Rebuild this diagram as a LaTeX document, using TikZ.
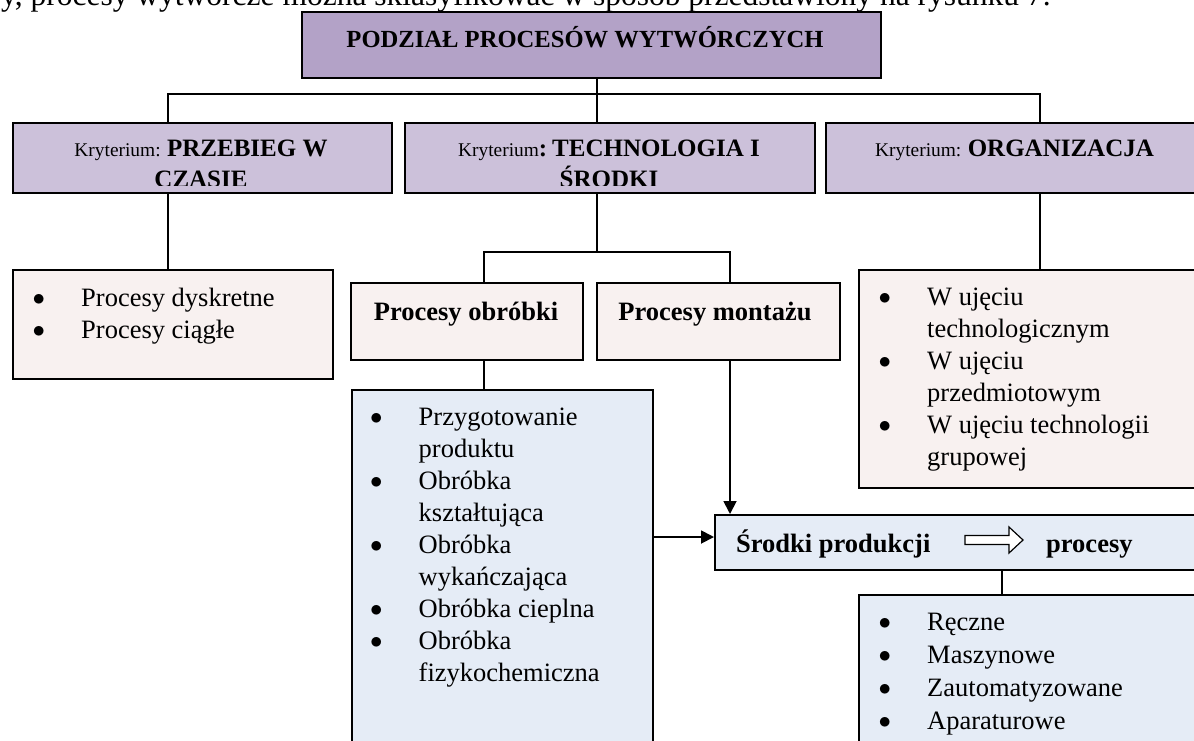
\documentclass[tikz,border=0pt]{standalone}
\usepackage{fontspec}
\setmainfont{Liberation Serif}
\usetikzlibrary{arrows.meta,calc}

\definecolor{titlefill}{HTML}{B3A2C7}
\definecolor{critfill}{HTML}{CCC1DA}
\definecolor{rosefill}{HTML}{F8F1F0}
\definecolor{bluefill}{HTML}{E5ECF6}

% font sizes used in the chart
\newcommand{\listfont}{\fontsize{26.5}{32}\selectfont}
\newcommand{\critsmall}{\fontsize{19.4}{22}\selectfont}
\newcommand{\critbig}{\fontsize{25}{31}\selectfont}
% round list bullet
\newcommand{\bul}{\raisebox{1pt}{$\bullet$}}
% bulleted list: bullet column + text column, first baseline on the node's base
\newcommand{\blist}[1]{\renewcommand{\arraystretch}{1}\begin{tabular}[t]{@{}p{48.5pt}@{}l@{}}#1\end{tabular}}

\begin{document}
\begin{tikzpicture}[x=1pt,y=-1pt,
  box/.style={draw=black, line width=2.2pt, inner sep=0pt, anchor=north west},
  conn/.style={draw=black, line width=1.8pt},
  arr/.style={conn, -{Triangle[length=13pt,width=13pt]}},
  txt/.style={inner sep=0pt}]

\useasboundingbox (0,0) rectangle (1194,740);
\clip (0,0) rectangle (1194,740);

% running text above the chart
\node[txt, anchor=base west, font=\fontsize{31.5}{36}\selectfont] (intro) at (1,5)
  {y, procesy wytwórcze można sklasyfikować w sposób przedstawiony na rysunku 7.};

% ---------- boxes ----------
\node[box, fill=titlefill, minimum width=579pt, minimum height=66pt] (title) at (301,11) {};
\node[box, fill=critfill, minimum width=379.5pt, minimum height=70pt] (przebieg) at (11.5,122) {};
\node[box, fill=critfill, minimum width=410pt, minimum height=70pt] (tech) at (404,122) {};
\node[box, fill=critfill, minimum width=380pt, minimum height=70pt] (org) at (825,122) {};
\node[box, fill=rosefill, minimum width=320pt, minimum height=109pt] (dysk) at (12,269) {};
\node[box, fill=rosefill, minimum width=232pt, minimum height=77pt] (obr) at (350,282) {};
\node[box, fill=rosefill, minimum width=243pt, minimum height=77pt] (mont) at (596,282) {};
\node[box, fill=rosefill, minimum width=350pt, minimum height=218pt] (ujec) at (858,269) {};
\node[box, fill=bluefill, minimum width=301pt, minimum height=370pt] (obrlist) at (351,389) {};
\node[box, fill=bluefill, minimum width=490pt, minimum height=55pt] (srodki) at (714,514) {};
\node[box, fill=bluefill, minimum width=350pt, minimum height=170pt] (reczne) at (858,594) {};

% ---------- connectors ----------
\coordinate (busL) at (168,94);
\coordinate (busC) at (597,94);
\coordinate (busR) at (1040,94);
\coordinate (subL) at (484,252);
\coordinate (subC) at (597,252);
\coordinate (subR) at (730,252);
\coordinate (feedY) at (0,537);
\coordinate (downX) at (1002,0);

\draw[conn] (busC |- title.south) -- (busC |- tech.north);
\draw[conn] (busL |- przebieg.north) -- (busL) -- (busR) -- (busR |- org.north);
\draw[conn] (busL |- przebieg.south) -- (busL |- dysk.north);
\draw[conn] (busR |- org.south) -- (busR |- ujec.north);
\draw[conn] (subC |- tech.south) -- (subC);
\draw[conn] (subL |- obr.north) -- (subL) -- (subR) -- (subR |- mont.north);
\draw[conn] (subL |- obr.south) -- (subL |- obrlist.north);
\draw[arr] (subR |- mont.south) -- (subR |- srodki.north);
\draw[arr] (obrlist.east |- feedY) -- (srodki.west |- feedY);
\draw[conn] (downX |- srodki.south) -- (downX |- reczne.north);

% ---------- texts ----------
\node[txt, anchor=base, font=\fontsize{24.6}{28}\selectfont\bfseries] (titletext) at (585,47)
  {PODZIAŁ PROCESÓW WYTWÓRCZYCH};

\begin{scope}
  \clip (przebieg.north west) rectangle ([yshift=9pt]przebieg.south east);
  \node[txt, anchor=base] (przebiegtext) at (201,156)
    {\parbox[t]{370pt}{\centering\critbig{\critsmall Kryterium: }\textbf{PRZEBIEG W}\\ \textbf{CZASIE}}};
\end{scope}
\begin{scope}
  \clip (tech.north west) rectangle ([yshift=9pt]tech.south east);
  \node[txt, anchor=base] (techtext) at (609,156)
    {\parbox[t]{400pt}{\centering\critbig{\critsmall Kryterium}\textbf{:}{\critsmall\ }\textbf{TECHNOLOGIA I}\\ \textbf{ŚRODKI}}};
\end{scope}
\node[txt, anchor=base] (orgtext) at (1014.5,156)
  {\critbig{\critsmall Kryterium: }\textbf{ORGANIZACJA}};

\node[txt, anchor=base, font=\listfont\bfseries] (obrtext) at (466,320) {Procesy obróbki};
\node[txt, anchor=base, font=\listfont\bfseries] (monttext) at (715,320) {Procesy montażu};

\node[txt, anchor=base west, font=\listfont] (dysklist) at (32.5,306)
  {\blist{\bul & Procesy dyskretne\\ \bul & Procesy ciągłe}};

\node[txt, anchor=base west, font=\listfont] (ujeclist) at (878.5,305)
  {\blist{\bul & W ujęciu\\ & technologicznym\\ \bul & W ujęciu\\ & przedmiotowym\\
   \bul & W ujęciu technologii\\ & grupowej}};

\node[txt, anchor=base west, font=\listfont] (obrlisttext) at (370,425)
  {\blist{\bul & Przygotowanie\\ & produktu\\ \bul & Obróbka\\ & kształtująca\\
   \bul & Obróbka\\ & wykańczająca\\ \bul & Obróbka cieplna\\ \bul & Obróbka\\ & fizykochemiczna}};

\node[txt, anchor=base west, font=\fontsize{26.5}{33}\selectfont] (recznelist) at (878.5,630)
  {\blist{\bul & Ręczne\\ \bul & Maszynowe\\ \bul & Zautomatyzowane\\ \bul & Aparaturowe}};

\node[txt, anchor=base west, font=\listfont\bfseries] (srodkitext) at (736,552) {Środki produkcji};
\node[txt, anchor=base west, font=\listfont\bfseries] (procesytext) at (1046,552) {procesy};
% hollow block arrow between the two words
\draw[line width=1.2pt, fill=white]
  (965,535.5) -- (1009,535.5) -- (1009,527) -- (1023,540) -- (1009,553) -- (1009,544.5) -- (965,544.5) -- cycle;

\end{tikzpicture}
\end{document}
